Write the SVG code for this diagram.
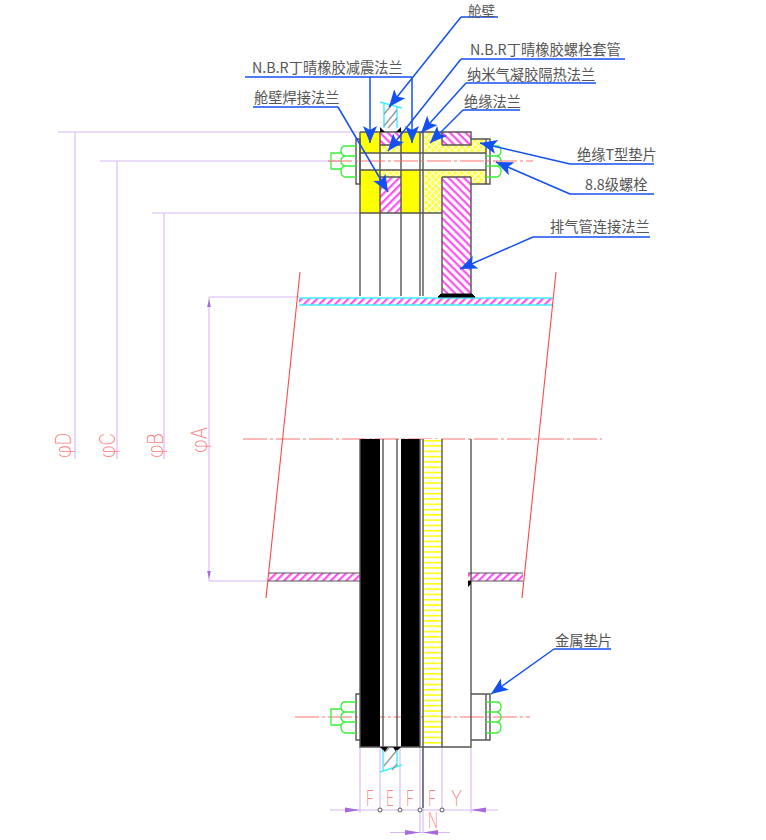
<svg xmlns="http://www.w3.org/2000/svg" width="766" height="840" viewBox="0 0 766 840">
<defs>
<pattern id="pk" width="5.500" height="5.500" patternUnits="userSpaceOnUse" patternTransform="rotate(-45)"><rect width="5.500" height="5.500" fill="#fff"/><rect width="5.500" height="2.200" fill="#ff50f0"/></pattern>
<pattern id="pk2" width="5.500" height="5.500" patternUnits="userSpaceOnUse" patternTransform="rotate(45)"><rect width="5.500" height="5.500" fill="#fff"/><rect width="5.500" height="2.200" fill="#ff50f0"/></pattern>
<pattern id="xh" width="4.600" height="4.600" patternUnits="userSpaceOnUse" patternTransform="rotate(45)"><rect width="4.600" height="4.600" fill="#ffff40"/><path d="M0 0H4.600M0 0V4.600" stroke="#fff" stroke-width="2"/></pattern>
<pattern id="yl" width="4" height="5.300" patternUnits="userSpaceOnUse"><rect width="4" height="5.300" fill="#fff"/><rect width="4" height="1.600" fill="#ffff10"/></pattern>
<marker id="ah" markerUnits="userSpaceOnUse" markerWidth="20" markerHeight="16" refX="17" refY="7" orient="auto"><path d="M0 0L17 7L0 14L4 7Z" fill="#1450f0"/></marker>
<g id="nut"><path class="g" d="M15 0H4Q0 0 0 5Q0 9 4 10H15M4 10Q0 11 0 15Q0 19 4 20H15M4 20Q0 21 0 25Q0 30 4 31H15"/></g>
</defs>
<style>
text{font-family:"Noto Sans CJK SC","Noto Sans",sans-serif;fill:#555;font-size:14.250px}
text.dt{font-family:"Inter","Liberation Sans",sans-serif;fill:#ff8080;font-size:22px;font-weight:200}
.o{fill:none;stroke:#555;stroke-width:1.4}
.t{stroke:#555;stroke-width:1.1}
.g{fill:none;stroke:#38f038;stroke-width:1.300}
.c{fill:none;stroke:#40f0ff;stroke-width:1.400}
.d{fill:none;stroke:#d4b8f4;stroke-width:1.100}
.r{fill:none;stroke:#ff4848;stroke-width:1.100}
.cl{fill:none;stroke:#ff7070;stroke-width:1;stroke-dasharray:24 3 3 3}
.l{fill:none;stroke:#1450f0;stroke-width:1.500}
.la{fill:none;stroke:#1450f0;stroke-width:1.500;marker-end:url(#ah)}
.hg{fill:none;stroke:#999;stroke-width:1.400}
</style>
<rect width="766" height="840" fill="#fff"/>

<g id="dimensions">
<path class="d" d="M58 132H360M100 161H340M152 213H360M75 132V459M117 161V459M164 213V459"/>
<path class="d" d="M209 297H299M209 581H268M209 297V581"/>
<path d="M209 299l-1.800 8h3.600zM209 579l-1.800-8h3.600z" fill="#a868e0"/>
<path class="d" d="M360 747V813M380 747V810M400 747V810M420 747V833M423 747V833M442 747V810M471 747V813"/>
<path class="d" d="M330 810H498M390 832.500H450"/>
<path d="M345 807.500L360 810L345 812.500ZM486 807.500L471 810L486 812.500ZM405 830L420 832.500L405 835ZM438 830L423 832.500L438 835Z" fill="#a868e0"/>
<text class="dt" transform="translate(71,458) rotate(-90)" textLength="25" lengthAdjust="spacingAndGlyphs">φD</text>
<text class="dt" transform="translate(115,458) rotate(-90)" textLength="25" lengthAdjust="spacingAndGlyphs">φC</text>
<text class="dt" transform="translate(163,458) rotate(-90)" textLength="25" lengthAdjust="spacingAndGlyphs">φB</text>
<text class="dt" transform="translate(207,453) rotate(-90)" textLength="26" lengthAdjust="spacingAndGlyphs">φA</text>
<text class="dt" x="366" y="806" textLength="8" lengthAdjust="spacingAndGlyphs">F</text>
<text class="dt" x="386" y="806" textLength="8" lengthAdjust="spacingAndGlyphs">E</text>
<text class="dt" x="406" y="806" textLength="8" lengthAdjust="spacingAndGlyphs">F</text>
<text class="dt" x="428" y="806" textLength="8" lengthAdjust="spacingAndGlyphs">F</text>
<text class="dt" x="451" y="806" textLength="11" lengthAdjust="spacingAndGlyphs">Y</text>
<text class="dt" x="428" y="828" textLength="10" lengthAdjust="spacingAndGlyphs">N</text>
</g>

<g id="centerlines-back">
<path class="cl" d="M243 439H602M295 717H530"/>
</g>

<g id="pipe">
<rect x="299" y="298" width="254" height="7" fill="url(#pk)"/><path class="c" d="M299 298H553M299 305H553"/>
<rect x="268" y="573" width="92" height="8" fill="url(#pk)"/><path d="M268 573H360M268 581H360" class="t"/>
<rect x="468" y="573" width="55" height="8" fill="url(#pk)"/><path d="M468 573H523M468 581H523" class="t"/>
<path class="r" d="M300 272L266 598M556 272L522 598"/>
</g>

<g id="section-top">
<rect x="360" y="132" width="20" height="81" fill="#ffff00"/>
<rect x="401" y="132" width="19" height="81" fill="#ffff00"/>
<rect x="380" y="132" width="21" height="13" fill="url(#pk2)"/>
<rect x="380" y="145" width="21" height="8" fill="url(#xh)"/>
<rect x="380" y="170" width="21" height="7" fill="url(#xh)"/>
<rect x="380" y="177" width="21" height="36" fill="url(#pk)"/>
<rect x="423" y="132" width="19" height="81" fill="url(#xh)"/>
<rect x="442" y="145" width="44" height="8" fill="url(#xh)"/>
<rect x="471" y="139" width="15" height="14" fill="url(#xh)"/>
<rect x="442" y="170" width="44" height="7" fill="url(#xh)"/>
<rect x="471" y="170" width="15" height="14" fill="url(#xh)"/>
<rect x="442" y="132" width="29" height="13" fill="url(#pk2)"/>
<rect x="442" y="177" width="29" height="117" fill="url(#pk2)"/>
<rect x="360" y="153" width="126" height="17" fill="#fff"/>
<path class="o" d="M360 132H471V145H442M380 145H401M360 153H486M360 170H486M380 177H401M442 177H471M360 213H442M471 139H490V184H471M486 139V184M356 139H360V184H356Z"/>
<path class="o" d="M360 132V296M380 132V296M401 132V296M420 132V296M423 132V296M442 177V296M471 177V296M442 132V145"/>
<path d="M438 297L441 294H472L475 297Z" fill="#000" stroke="#000"/>
<path d="M380 132V127L385 132ZM401 132V127L396 132Z" fill="#000"/>
<path class="c" d="M384 128V103M397 128V107M380 102L402 108"/>
<path class="hg" d="M384 126L397 110M384 114L391 106M388 128L397 118"/>
</g>

<g id="section-bottom">
<rect x="360" y="439" width="20" height="308" fill="#000"/>
<rect x="401" y="439" width="19" height="308" fill="#000"/>
<rect x="423" y="439" width="19" height="308" fill="url(#yl)"/>
<path class="o" d="M360 439V747H471V694M383 439V747M397 439V747M420 439V747M423 439V747M442 439V747M471 439V694M471 694H490V740H471M486 694V740M356 694H360V740H356Z"/>
<path d="M380 747L385 752L388 747ZM401 747L396 752L393 747Z" fill="#000"/>
<path d="M423 747V808" stroke="#555" stroke-width="1.400"/>
<path d="M468 581L468 587L471 584V581Z" fill="#000"/>
<path class="c" d="M383 750V772M397 750V767M380 772L402 765"/>
<path class="hg" d="M384 766L397 750M385 752L389 748M392 770L397 764"/>
</g>

<g id="bolts">
<use href="#nut" x="341" y="146"/><path class="g" d="M341 153H331V169H341"/>
<use href="#nut" transform="translate(501,146) scale(-1,1)"/>
<use href="#nut" x="341" y="702"/><path class="g" d="M341 709H331V725H341"/>
<use href="#nut" transform="translate(501,702) scale(-1,1)"/>
</g>

<g id="centerlines">
<path class="cl" d="M328 161H533"/>
</g>

<g id="connectors">
<path class="l" d="M461 17H498M461 59H625M466 83H596M463 110H520"/>
<path class="l" d="M245 77H412M253 107H338M570 164H654M570 194H654M533 237H650M554 649H611"/>
<path class="la" d="M461 17L389 107"/>
<path class="la" d="M461 59L388 151"/>
<path class="la" d="M466 83L421 133"/>
<path class="la" d="M463 110L430 143"/>
<path class="la" d="M370 77V143"/>
<path class="la" d="M412 77V143"/>
<path class="la" d="M338 107L388 192"/>
<path class="la" d="M570 164L480 143"/>
<path class="la" d="M570 194L496 162"/>
<path class="la" d="M533 237L460 269"/>
<path class="la" d="M554 649L491 694"/>
</g>

<g id="labels">
<text x="468" y="15.500" style="font-size:13.500px">舱壁</text>
<text x="470" y="55">N.B.R丁晴橡胶螺栓套管</text>
<text x="467" y="80">纳米气凝胶隔热法兰</text>
<text x="464" y="107">绝缘法兰</text>
<text x="252" y="73">N.B.R丁晴橡胶减震法兰</text>
<text x="254" y="103">舱壁焊接法兰</text>
<text x="577" y="160">绝缘T型垫片</text>
<text x="585" y="190">8.8级螺栓</text>
<text x="550" y="232">排气管连接法兰</text>
<text x="555" y="646">金属垫片</text>
</g>

<g id="dim-dots" fill="#fff" stroke="#555">
<circle cx="380" cy="810" r="2"/><circle cx="400" cy="810" r="2"/><circle cx="420" cy="810" r="2"/><circle cx="442" cy="810" r="2"/>
</g>
</svg>
